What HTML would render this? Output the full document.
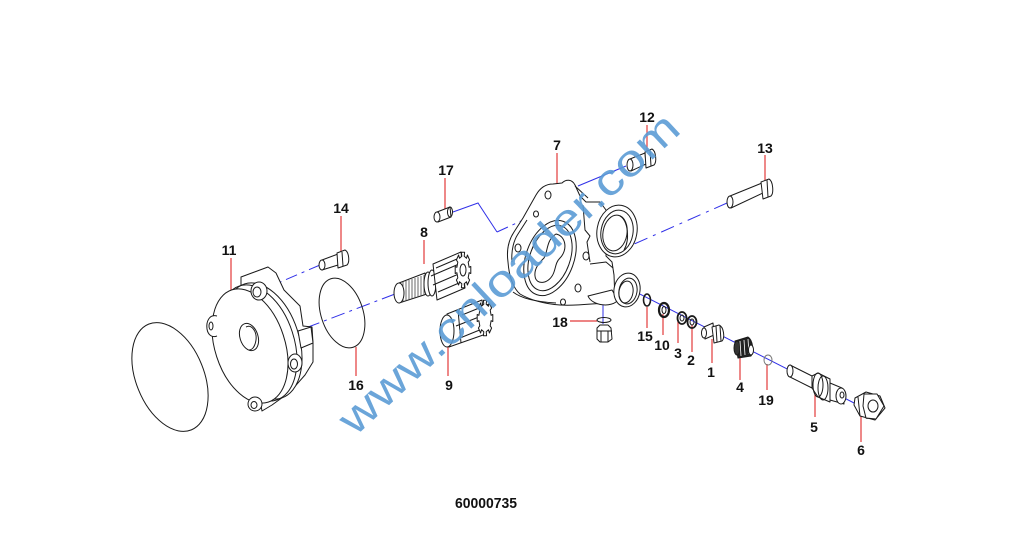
<!DOCTYPE html>
<html><head><meta charset="utf-8"><style>
html,body{margin:0;padding:0;background:#fff;}
svg{display:block;}
.t{font-family:"Liberation Sans",Arial,sans-serif;font-weight:bold;font-size:14px;fill:#111;text-anchor:middle;}
</style></head><body>
<svg width="1024" height="550" viewBox="0 0 1024 550" xmlns="http://www.w3.org/2000/svg">
<rect width="1024" height="550" fill="#fff"/>

<!-- blue centre lines -->
<g fill="none" stroke="#3030e8" stroke-width="1">
  <path d="M320,265 L278,283" stroke-dasharray="12 5 3 5"/>
  <path d="M395,294 L303,329" stroke-dasharray="14 5 3 5"/>
  <path d="M453,212 L478,203 L497,232"/>
  <path d="M497,232 L545,210" stroke-dasharray="12 5 3 5"/>
  <path d="M578,186 L626,166"/>
  <path d="M727,203 L632,245" stroke-dasharray="14 6 3 6"/>
  <path d="M632,290 L860,406"/>
  <path d="M603,305 L603,324"/>
</g>

<!-- red leaders -->
<g fill="none" stroke="#e23a3a" stroke-width="1.2">
  <path d="M231,258 V292"/>
  <path d="M341,216 V252"/>
  <path d="M445,178 V210"/>
  <path d="M424,240 V264"/>
  <path d="M557,153 V184"/>
  <path d="M647,125 V152"/>
  <path d="M765,155 V182"/>
  <path d="M356,376 V347"/>
  <path d="M448,376 V345"/>
  <path d="M570,321 H597"/>
  <path d="M647,328 V307"/>
  <path d="M663,335 V314"/>
  <path d="M678,343 V320"/>
  <path d="M692,352 V325"/>
  <path d="M712,363 V339"/>
  <path d="M740,380 V355"/>
  <path d="M767,390 V364"/>
  <path d="M815,417 V394"/>
  <path d="M861,442 V416"/>
</g>

<g fill="none" stroke="#1a1a1a" stroke-width="1" stroke-linejoin="round">
  <!-- big gasket -->
  <ellipse cx="170" cy="377" rx="34" ry="57" transform="rotate(-22 170 377)"/>
  <!-- gasket 16 -->
  <ellipse cx="342" cy="313" rx="21" ry="36" transform="rotate(-18 342 313)"/>

  <!-- cover 11 -->
  <path fill="#fff" d="M241,293 L241,277 L268,267 L276,273 L284,290 L300,306 L303,326 L312,327 L313,343 L313,362 L305,375 L290,392 L272,405 L262,411 L250,346 Z"/>
  <ellipse fill="#fff" cx="263" cy="341" rx="36" ry="60" transform="rotate(-18 263 341)"/>
  <ellipse cx="258" cy="343" rx="36" ry="60" transform="rotate(-18 258 343)"/>
  <ellipse fill="#fff" cx="250" cy="346" rx="35" ry="59" transform="rotate(-18 250 346)"/>
  <path fill="#fff" d="M298,331 L311,327 L313,343 L301,348 Z"/>
  <ellipse cx="249" cy="337" rx="9" ry="14" transform="rotate(-18 249 337)"/>
  <path d="M246,327 C252,324 257,332 256,340 C255,347 252,350 249,350"/>
  <ellipse fill="#fff" cx="259" cy="291" rx="8" ry="9"/>
  <ellipse cx="257" cy="292" rx="4" ry="5"/>
  <ellipse fill="#fff" cx="295" cy="363" rx="7" ry="9"/>
  <ellipse cx="294" cy="364" rx="3.5" ry="5"/>
  <ellipse fill="#fff" cx="255" cy="404" rx="7" ry="7"/>
  <ellipse cx="254" cy="405" rx="3" ry="3.5"/>
  <path fill="#fff" d="M217,316 C209,314 206,322 207,329 C208,335 212,338 217,336"/>
  <ellipse cx="211" cy="326" rx="2" ry="4"/>

  <!-- bolt 14 -->
  <path fill="#fff" d="M322,260 L338,254 L338,265 L322,270 Z"/>
  <ellipse fill="#fff" cx="322" cy="265" rx="3" ry="5"/>
  <path fill="#fff" d="M337,253 L345,250 C349,252 350,262 347,265 L338,268 Z"/>
  <path d="M342,252 L343,266"/>

  <!-- pin 17 -->
  <path fill="#fff" d="M437,212 L450,207 L451,217 L438,222 Z"/>
  <ellipse fill="#fff" cx="437" cy="217" rx="3" ry="5"/>
  <ellipse cx="450" cy="212" rx="2.5" ry="5"/>

  <!-- gear 8 shaft -->
  <path fill="#fff" d="M399,283 L425,273 L427,294 L399,303 Z"/>
  <g stroke="#444" stroke-width="0.8">
    <path d="M403,282 V302 M406,281 V301 M409,280 V300 M412,279 V299 M415,278 V298 M418,277 V297 M421,276 V296 M424,275 V295"/>
  </g>
  <ellipse fill="#fff" cx="399" cy="293" rx="5" ry="10"/>
  <ellipse fill="#fff" cx="428" cy="284" rx="4" ry="12"/>
  <ellipse fill="#fff" cx="432" cy="283" rx="4" ry="13"/>
  <!-- gear 8 teeth body -->
  <path fill="#fff" d="M433,264 L461,252 L465,288 L437,300 Z"/>
  <path d="M436,268 L464,256 M431,276 L459,264 M438,292 L466,280 M433,285 L461,273"/>
  <path fill="#fff" d="M470.8,266.5 L470.8,273.5 L469.1,272.7 L468.2,277.8 L469.6,280 L467.4,285 L466.5,281.7 L464.2,283.8 L464.6,287.7 L461.4,287.7 L461.8,283.8 L459.5,281.7 L458.6,285 L456.4,280 L457.8,277.8 L456.9,272.7 L455.2,273.5 L455.2,266.5 L456.9,267.3 L457.8,262.2 L456.4,260 L458.6,255 L459.5,258.3 L461.8,256.2 L461.4,252.3 L464.6,252.3 L464.2,256.2 L466.5,258.3 L467.4,255 L469.6,260 L468.2,262.2 L469.1,267.3 Z"/>
  <ellipse cx="463" cy="270" rx="3" ry="6"/>

  <!-- gear 9 -->
  <path fill="#fff" d="M447,314 L482,300 L486,334 L449,347 Z"/>
  <path d="M458,310 L461,343 M462,315 L489,304 M460,338 L487,327 M456,326 L484,315"/>
  <ellipse fill="#fff" cx="447" cy="331" rx="7" ry="16"/>
  <g transform="translate(22,48)">
  <path fill="#fff" d="M470.8,266.5 L470.8,273.5 L469.1,272.7 L468.2,277.8 L469.6,280 L467.4,285 L466.5,281.7 L464.2,283.8 L464.6,287.7 L461.4,287.7 L461.8,283.8 L459.5,281.7 L458.6,285 L456.4,280 L457.8,277.8 L456.9,272.7 L455.2,273.5 L455.2,266.5 L456.9,267.3 L457.8,262.2 L456.4,260 L458.6,255 L459.5,258.3 L461.8,256.2 L461.4,252.3 L464.6,252.3 L464.2,256.2 L466.5,258.3 L467.4,255 L469.6,260 L468.2,262.2 L469.1,267.3 Z"/>
  </g>

  <!-- housing 7 -->
  <path fill="#fff" d="M508,262 C506,248 510,238 514,232 L523,218 L536,195 C540,188 546,184 553,184 L562,183 C566,179 572,179 575,185 L580,196 L586,202 L600,202 L606,210 L606,256 L612,262 L614,275 L615,300 L606,303 C590,304 575,306 560,305 C545,304 530,300 520,294 C513,288 509,276 508,262 Z"/>
  <path d="M513,292 C522,299 538,302 556,303"/>
  <path d="M512,262 C511,250 514,240 518,234 L527,220"/>
  <ellipse cx="550" cy="258" rx="24" ry="39" transform="rotate(20 550 258)"/>
  <ellipse cx="550" cy="258" rx="20" ry="34" transform="rotate(20 550 258)"/>
  <path d="M556,234 C566,236 568,250 560,258 C556,262 556,266 554,272 C550,284 536,286 535,276 C534,268 540,262 544,258 C548,252 546,240 556,234 Z"/>
  <ellipse cx="548" cy="195" rx="3" ry="4"/>
  <ellipse cx="518" cy="248" rx="3" ry="4"/>
  <ellipse cx="578" cy="288" rx="3" ry="4"/>
  <ellipse cx="586" cy="256" rx="3" ry="4"/>
  <ellipse cx="563" cy="302" rx="2.5" ry="3"/>
  <ellipse cx="536" cy="214" rx="2.5" ry="3"/>
  <path d="M583,205 L585,230 L590,236 L587,242 L590,262"/>
  <path d="M590,264 L606,262 L613,268"/>
  <path d="M575,186 L588,198"/>
  <!-- upper port -->
  <ellipse fill="#fff" cx="617" cy="231" rx="20" ry="26" transform="rotate(10 617 231)"/>
  <ellipse cx="617" cy="232" rx="16" ry="22" transform="rotate(10 617 232)"/>
  <ellipse cx="615" cy="233" rx="12" ry="18" transform="rotate(10 615 233)"/>
  <path d="M620,216 C628,220 630,240 624,250"/>
  <!-- lower port -->
  <path fill="#fff" d="M588,296 C592,306 612,308 618,300 L612,290 Z"/>
  <ellipse fill="#fff" cx="627" cy="290" rx="13" ry="17" transform="rotate(10 627 290)"/>
  <ellipse cx="628" cy="291" rx="9" ry="13" transform="rotate(10 628 291)"/>
  <ellipse cx="626" cy="292" rx="7" ry="11" transform="rotate(10 626 292)"/>

  <!-- bolt 12 -->
  <path fill="#fff" d="M630,159 L645,153 L646,164 L631,171 Z"/>
  <ellipse fill="#fff" cx="630" cy="165" rx="3" ry="6"/>
  <path fill="#fff" d="M645,152 L652,149 C656,151 657,162 654,165 L646,168 Z"/>
  <path d="M650,150 L651,166"/>

  <!-- bolt 13 -->
  <path fill="#fff" d="M730,196 L762,183 L763,193 L731,208 Z"/>
  <ellipse fill="#fff" cx="730" cy="202" rx="3" ry="6"/>
  <path fill="#fff" d="M761,182 L769,179 C773,181 774,193 771,196 L763,199 Z"/>
  <path d="M767,180 L768,197"/>

  <!-- washers on main axis -->
  <ellipse cx="647" cy="300" rx="3.5" ry="6" stroke-width="1.6"/>
  <ellipse cx="664" cy="310" rx="5" ry="7" stroke-width="2.2"/>
  <ellipse cx="664" cy="310" rx="2" ry="3.5"/>
  <ellipse cx="682" cy="318" rx="4.5" ry="6" stroke-width="1.8"/>
  <ellipse cx="682" cy="318" rx="2" ry="3"/>
  <ellipse cx="692" cy="322" rx="4.5" ry="6" stroke-width="1.8"/>
  <ellipse cx="692" cy="322" rx="2" ry="3"/>
  <!-- part 1 -->
  <path fill="#fff" d="M704,327 L713,323 L714,335 L705,339 Z"/>
  <ellipse fill="#fff" cx="704" cy="333" rx="2.5" ry="5"/>
  <path fill="#fff" d="M712,327 L719,325 C724,327 725,338 722,341 L714,343 Z"/>
  <path d="M716,326 L717,342 M720,326 L721,341"/>
  <!-- part 4 knurled -->
  <path fill="#222" d="M735,341 L748,337 C753,340 754,352 751,356 L738,358 Z"/>
  <ellipse fill="#333" cx="737" cy="348" rx="3" ry="7"/>
  <path stroke="#fff" stroke-width="0.8" d="M740,341 L741,356 M744,340 L745,355 M748,339 L749,354"/>
  <ellipse fill="#fff" cx="751" cy="350" rx="2.5" ry="5"/>
  <!-- 19 -->
  <ellipse cx="768" cy="360" rx="4" ry="5" stroke="#777"/>
  <!-- part 5 -->
  <path fill="#fff" d="M790,365 L812,376 L812,388 L790,377 Z"/>
  <ellipse fill="#fff" cx="790" cy="371" rx="3" ry="6"/>
  <path fill="#fff" d="M812,376 L818,373 L830,379 L830,402 L818,397 L812,388 Z"/>
  <ellipse cx="818" cy="385" rx="5" ry="12"/>
  <ellipse cx="823" cy="388" rx="5" ry="12"/>
  <path fill="#fff" d="M830,383 L842,388 L844,404 L830,400 Z"/>
  <ellipse fill="#fff" cx="841" cy="396" rx="5" ry="8"/>
  <ellipse cx="842" cy="395" rx="2" ry="3"/>
  <!-- nut 6 -->
  <path fill="#fff" d="M855,398 L866,392 L880,396 L885,408 L875,420 L860,416 L854,405 Z"/>
  <path d="M858,397 L860,416 M864,393 L867,419"/>
  <path fill="#fff" d="M864,394 L877,394 L884,406 L876,419 L866,418 L863,406 Z"/>
  <ellipse cx="873" cy="406" rx="5" ry="6"/>
  <!-- 18 washer + plug -->
  <ellipse cx="604" cy="320" rx="7" ry="2.5"/>
  <path fill="#fff" d="M597,328 L600,325 L608,325 L611,328 L612,339 L608,342 L600,342 L597,339 Z"/>
  <path d="M597,331 H612 M601,331 V342 M608,331 V342"/>
</g>

<!-- labels -->
<text class="t" x="229" y="255">11</text>
<text class="t" x="341" y="213">14</text>
<text class="t" x="446" y="175">17</text>
<text class="t" x="424" y="237">8</text>
<text class="t" x="557" y="150">7</text>
<text class="t" x="647" y="122">12</text>
<text class="t" x="765" y="153">13</text>
<text class="t" x="356" y="390">16</text>
<text class="t" x="449" y="390">9</text>
<text class="t" x="560" y="327">18</text>
<text class="t" x="645" y="341">15</text>
<text class="t" x="662" y="350">10</text>
<text class="t" x="678" y="358">3</text>
<text class="t" x="691" y="365">2</text>
<text class="t" x="711" y="377">1</text>
<text class="t" x="740" y="392">4</text>
<text class="t" x="766" y="405">19</text>
<text class="t" x="814" y="432">5</text>
<text class="t" x="861" y="455">6</text>
<text class="t" x="486" y="508" style="font-size:15px" textLength="62" lengthAdjust="spacingAndGlyphs">60000735</text>

<!-- watermark -->
<text x="0" y="0" transform="translate(355,437) rotate(-43)" font-family="Liberation Sans, Arial, sans-serif" font-size="44" textLength="448" lengthAdjust="spacingAndGlyphs" fill="#5b9bd5" fill-opacity="0.9">www.cnloader.com</text>
</svg>
</body></html>
